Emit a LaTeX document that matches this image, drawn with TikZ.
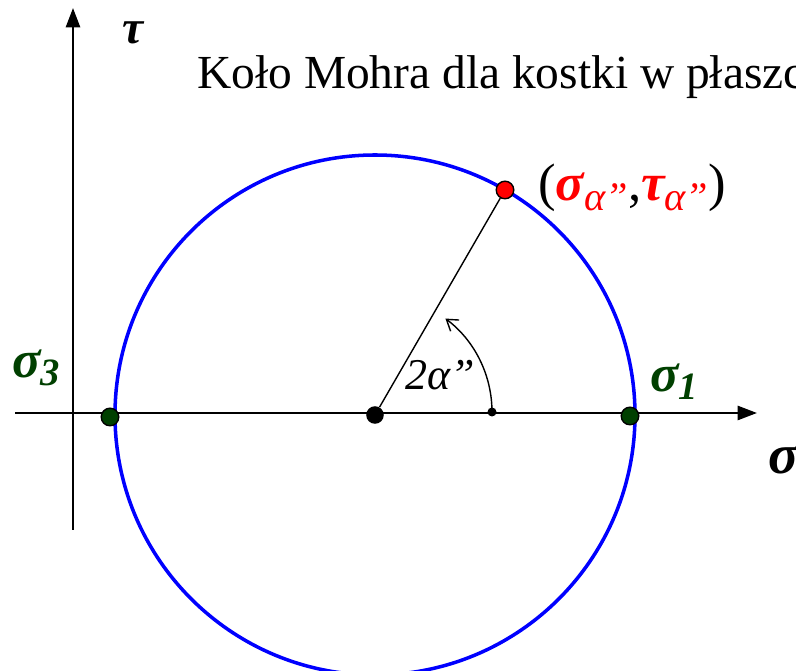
\documentclass[tikz,border=0pt]{standalone}
\usepackage{fontspec}
\setmainfont{Liberation Serif}
\usetikzlibrary{arrows.meta}
\definecolor{dgreen}{RGB}{0,64,0}
\definecolor{cblue}{RGB}{0,0,255}
\definecolor{cred}{RGB}{255,0,0}
\tikzset{
  axis/.style={line width=1.4pt,-{Triangle[length=11pt,width=8pt]}},
  mohr/.style={draw=cblue,line width=2pt},
  gdot/.style={circle,draw=black,fill=dgreen,line width=0.8pt,minimum size=10pt,inner sep=0pt},
  cdot/.style={circle,fill=black,minimum size=10pt,inner sep=0pt},
  rdot/.style={circle,draw=black,fill=cred,line width=0.8pt,minimum size=10pt,inner sep=0pt},
  lbl/.style={inner sep=0pt,anchor=base west}
}
\begin{document}
\begin{tikzpicture}[x=0.02cm,y=-0.02cm]
\useasboundingbox (0,0) rectangle (796,671);
\clip (0,0) rectangle (796,671);
\fill[white] (0,0) rectangle (796,671);
% axes
\coordinate (xs) at (15,413);
\coordinate (xe) at (757,413);
\coordinate (ys) at (73,530);
\coordinate (ye) at (73,8);
\draw[axis] (xs) -- (xe);
\draw[axis] (ys) -- (ye);
% circle
\coordinate (O) at (375,415);
\draw[mohr] (O) circle[radius=260];
% nodes
\node[cdot] (c) at (375,415) {};
\node[gdot] (s3) at (110,417) {};
\node[gdot] (s1) at (630,416) {};
\node[rdot] (p) at (505,190) {};
\draw[line width=0.8pt] (c) -- (p);
% angle arc
\coordinate (a0) at (492,412);
\fill (a0) circle[radius=4.5];
\draw[line width=0.8pt,-{Straight Barb[length=6pt,width=8pt]}] (a0) arc[start angle=0,end angle=-53,radius=117];
% labels
\node[lbl] (title) at (197,89) {\fontsize{27}{32}\selectfont Koło Mohra dla kostki w płaszczyźnie};
\node[lbl] (tau) at (122,44) {\fontsize{27}{30}\selectfont\bfseries\itshape τ};
\node[lbl] (sig) at (768,474) {\fontsize{32}{34}\selectfont\bfseries\itshape σ};
\node[lbl,text=dgreen] (l3) at (12,378) {\fontsize{30}{34}\selectfont\bfseries\itshape σ\raisebox{-0.3ex}{\fontsize{22}{24}\selectfont 3}};
\node[lbl,text=dgreen] (l1) at (650,392) {\fontsize{30}{34}\selectfont\bfseries\itshape σ\raisebox{-0.3ex}{\fontsize{22}{24}\selectfont 1}};
\node[lbl] (ang) at (405,390) {\fontsize{25}{28}\selectfont\itshape 2α”};
\node[lbl] (pl) at (538,201) {\fontsize{30}{34}\selectfont (\textcolor{cred}{\bfseries\itshape σ\raisebox{-0.4ex}{\fontsize{23}{24}\selectfont\mdseries α”}},\textcolor{cred}{\bfseries\itshape τ\raisebox{-0.4ex}{\fontsize{23}{24}\selectfont\mdseries α”}})};
\end{tikzpicture}
\end{document}
